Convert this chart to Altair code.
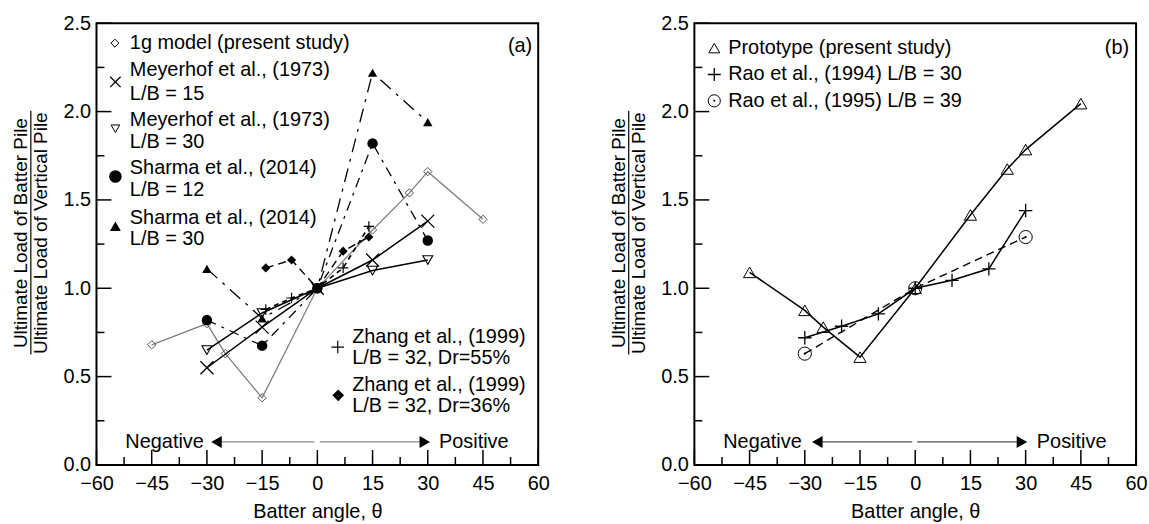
import altair as alt
import pandas as pd

FONT = "Liberation Sans"
W, H = 444, 444

# ---------------- Panel (a) data ----------------
g1_x = [-45, -30, -25, -15, 0, 15, 25, 30, 45]
g1_y = [0.68, 0.80, 0.63, 0.38, 1.00, 1.33, 1.54, 1.66, 1.39]
mey15_x = [-30, -15, 0, 15, 30]
mey15_y = [0.55, 0.78, 1.00, 1.16, 1.38]
mey30_x = [-30, -15, 0, 15, 30]
mey30_y = [0.65, 0.86, 1.00, 1.10, 1.16]
sh12_x = [-30, -15, 0, 15, 30]
sh12_y = [0.82, 0.675, 1.00, 1.82, 1.27]
sh30_x = [-30, -15, 0, 15, 30]
sh30_y = [1.11, 0.83, 1.00, 2.22, 1.94]
zh55_x = [-14, -7, 0, 7, 14]
zh55_y = [0.88, 0.945, 1.00, 1.115, 1.35]
zh36_x = [-14, -7, 0, 7, 14]
zh36_y = [1.115, 1.16, 1.00, 1.21, 1.29]

# ---------------- Panel (b) data ----------------
pro_x = [-45, -30, -25, -15, 0, 15, 25, 30, 45]
pro_y = [1.09, 0.875, 0.78, 0.61, 1.00, 1.415, 1.675, 1.785, 2.045]
rao94_x = [-30, -20, -10, 0, 10, 20, 30]
rao94_y = [0.72, 0.785, 0.855, 1.00, 1.045, 1.11, 1.44]
rao95_x = [-30, 0, 30]
rao95_y = [0.63, 1.00, 1.29]

# ---------------- axes ----------------
x_ticks = [-60, -45, -30, -15, 0, 15, 30, 45, 60]
x_minor = [-52.5, -37.5, -22.5, -7.5, 7.5, 22.5, 37.5, 52.5]
y_ticks = [0.0, 0.5, 1.0, 1.5, 2.0, 2.5]
y_minor = [0.25, 0.75, 1.25, 1.75, 2.25]

# arrow annotation (data units)
arrow_a = {"x1": [-27.0, 0.7], "x2": [-0.8, 28.0], "y": [0.13, 0.13]}
heads_a = {"xl": -27.4, "xr": 29.2, "y": 0.13}
arrow_b = {"x1": [-26.5, 0.5], "x2": [-0.8, 28.5], "y": [0.13, 0.13]}
heads_b = {"xl": -26.6, "xr": 29.0, "y": 0.13}
neg_pos_x = [-41.5, 42.5]

xscale = alt.Scale(domain=[-60, 60], nice=False, zero=False)
yscale = alt.Scale(domain=[0, 2.5], nice=False, zero=False)
xaxis = alt.Axis(values=x_ticks, format="d", title="Batter angle, θ", ticks=False,
                 domain=False, grid=False, labelFont=FONT, labelFontSize=20,
                 labelColor="black", labelPadding=9, labelFlush=False,
                 labelOverlap=False, titleFont=FONT, titleFontSize=20,
                 titleFontWeight="normal", titleColor="black", titlePadding=8)
yaxis = alt.Axis(values=y_ticks, format=".1f", title=None, ticks=False,
                 domain=False, grid=False, labelFont=FONT, labelFontSize=20,
                 labelColor="black", labelPadding=6, labelOverlap=False)

ONE = pd.DataFrame({"a": [0]})
X_PATH = "M-1,-1L1,1M-1,1L1,-1"
PLUS_PATH = "M-1,0L1,0M0,-1L0,1"


def X(f="x"):
    return alt.X(f"{f}:Q", scale=xscale, axis=xaxis)


def Y(f="y"):
    return alt.Y(f"{f}:Q", scale=yscale, axis=yaxis)


def line(xs, ys, color="black", width=1.5, dash=None):
    kw = dict(color=color, strokeWidth=width)
    if dash:
        kw["strokeDash"] = dash
    return alt.Chart(pd.DataFrame({"x": xs, "y": ys})).mark_line(**kw).encode(x=X(), y=Y())


def pts(xs, ys, shape, size, filled, color="black", sw=1.2):
    return alt.Chart(pd.DataFrame({"x": xs, "y": ys})).mark_point(
        shape=shape, size=size, filled=filled, color=color, opacity=1, strokeWidth=sw
    ).encode(x=X(), y=Y())


def txt(x, y, s, size=20, align="left"):
    return alt.Chart(ONE).mark_text(text=s, font=FONT, fontSize=size, align=align,
                                    baseline="middle", color="black").encode(
        x=alt.value(x), y=alt.value(y))


def sym(x, y, shape, size, filled, color="black", sw=1.2):
    return alt.Chart(ONE).mark_point(shape=shape, size=size, filled=filled, color=color,
                                     opacity=1, strokeWidth=sw).encode(
        x=alt.value(x), y=alt.value(y))


def frame_ticks():
    layers = []
    for vals, ln in ((x_ticks, 15), (x_minor, 8)):
        layers.append(alt.Chart(pd.DataFrame({"x": vals})).mark_rule(color="black", strokeWidth=1.5)
                      .encode(x=X(), y=alt.value(H), y2=alt.value(H - ln)))
    for vals, ln in ((y_ticks, 15), (y_minor, 8)):
        layers.append(alt.Chart(pd.DataFrame({"y": vals})).mark_rule(color="black", strokeWidth=1.5)
                      .encode(y=Y(), x=alt.value(0), x2=alt.value(ln)))
    return layers


def y_title():
    return [
        alt.Chart(ONE).mark_text(text="Ultimate Load of Batter Pile", font=FONT, fontSize=19,
                                 angle=270, align="center", baseline="middle", color="black")
        .encode(x=alt.value(-76), y=alt.value(211)),
        alt.Chart(ONE).mark_text(text="Ultimate Load of Vertical Pile", font=FONT, fontSize=19,
                                 angle=270, align="center", baseline="middle", color="black")
        .encode(x=alt.value(-56), y=alt.value(211)),
        alt.Chart(ONE).mark_rule(color="black", strokeWidth=1.2)
        .encode(x=alt.value(-66), y=alt.value(88), y2=alt.value(333)),
    ]


def arrow(spec, heads, color):
    df = pd.DataFrame(spec)
    r = alt.Chart(df).mark_rule(color=color, strokeWidth=1.3).encode(x=X("x1"), x2="x2:Q", y=Y())
    hl = pts([heads["xl"]], [heads["y"]], "triangle-left", 150, True)
    hr = pts([heads["xr"]], [heads["y"]], "triangle-right", 150, True)
    npx = pd.DataFrame({"x": neg_pos_x, "y": [heads["y"], heads["y"]], "t": ["Negative", "Positive"]})
    t = alt.Chart(npx).mark_text(font=FONT, fontSize=20, baseline="middle", color="black").encode(
        x=X(), y=Y(), text="t:N")
    return [r, hl, hr, t]


GRAY = "#7f7f7f"

panel_a = alt.layer(
    *frame_ticks(),
    *arrow(arrow_a, heads_a, "#8a8a8a"),
    line(g1_x, g1_y, color=GRAY, width=1.3),
    line(mey15_x, mey15_y, width=1.5),
    line(mey30_x, mey30_y, width=1.5),
    line(sh12_x, sh12_y, width=1.3, dash=[10, 6, 3, 6]),
    line(sh30_x, sh30_y, width=1.3, dash=[14, 7, 3, 7]),
    line(zh55_x, zh55_y, width=1.6, dash=[5, 4]),
    line(zh36_x, zh36_y, width=1.4, dash=[8, 5]),
    pts(g1_x, g1_y, "diamond", 70, False, color="#555555", sw=1.0),
    pts(mey15_x, mey15_y, X_PATH, 170, False, sw=1.3),
    pts(mey30_x, mey30_y, "triangle-down", 100, False, sw=1.1),
    pts(sh12_x, sh12_y, "circle", 110, True),
    pts(sh30_x, sh30_y, "triangle-up", 90, True),
    pts(zh55_x, zh55_y, PLUS_PATH, 110, False, sw=1.2),
    pts(zh36_x, zh36_y, "diamond", 85, True),
    # legend
    sym(18.5, 20, "diamond", 64, False, sw=1.0),
    txt(33.5, 20, "1g model (present study)"),
    sym(19, 59, X_PATH, 110, False, sw=1.3),
    txt(33.5, 47.5, "Meyerhof et al., (1973)"),
    txt(33.5, 71, "L/B = 15"),
    sym(19, 106, "triangle-down", 75, False, sw=1.0),
    txt(33.5, 97, "Meyerhof et al., (1973)"),
    txt(33.5, 119.5, "L/B = 30"),
    sym(19, 154, "circle", 160, True),
    txt(33.5, 146, "Sharma et al., (2014)"),
    txt(33.5, 168, "L/B = 12"),
    sym(19, 204, "triangle-up", 120, True),
    txt(33.5, 196, "Sharma et al., (2014)"),
    txt(33.5, 216.5, "L/B = 30"),
    sym(242.5, 325.5, PLUS_PATH, 160, False, sw=1.2),
    txt(257, 315, "Zhang et al., (1999)"),
    txt(257, 336.5, "L/B = 32, Dr=55%"),
    sym(243, 374, "diamond", 137, True),
    txt(257, 364, "Zhang et al., (1999)"),
    txt(257, 385, "L/B = 32, Dr=36%"),
    txt(438, 22.5, "(a)", align="right"),
    *y_title(),
).properties(width=W, height=H)

panel_b = alt.layer(
    *frame_ticks(),
    *arrow(arrow_b, heads_b, "#555555"),
    line(pro_x, pro_y, width=1.5),
    line(rao94_x, rao94_y, width=1.5),
    line(rao95_x, rao95_y, width=1.4, dash=[8, 5]),
    pts(pro_x, pro_y, "triangle-up", 150, False, sw=1.0),
    pts(rao94_x, rao94_y, PLUS_PATH, 180, False, sw=1.3),
    pts(rao95_x, rao95_y, "circle", 175, False, sw=1.0),
    pts(rao95_x, rao95_y, "circle", 5, True),
    # legend
    sym(20, 25, "triangle-up", 120, False, sw=1.0),
    txt(34, 25, "Prototype (present study)"),
    sym(20, 51.5, PLUS_PATH, 170, False, sw=1.3),
    txt(34, 51.5, "Rao et al., (1994) L/B = 30"),
    sym(20, 78, "circle", 150, False, sw=1.0),
    sym(20, 78, "circle", 4, True),
    txt(34, 78, "Rao et al., (1995) L/B = 39"),
    txt(437, 24.5, "(b)", align="right"),
    *y_title(),
).properties(width=W, height=H)

chart = alt.hconcat(panel_a, panel_b, spacing=58).properties(
    padding={"left": 11, "top": 11, "right": 0, "bottom": 0},
    background="white",
).configure_view(stroke="black", strokeWidth=2)

chart.save("out.html", embed_options={"renderer": "svg", "actions": False})
